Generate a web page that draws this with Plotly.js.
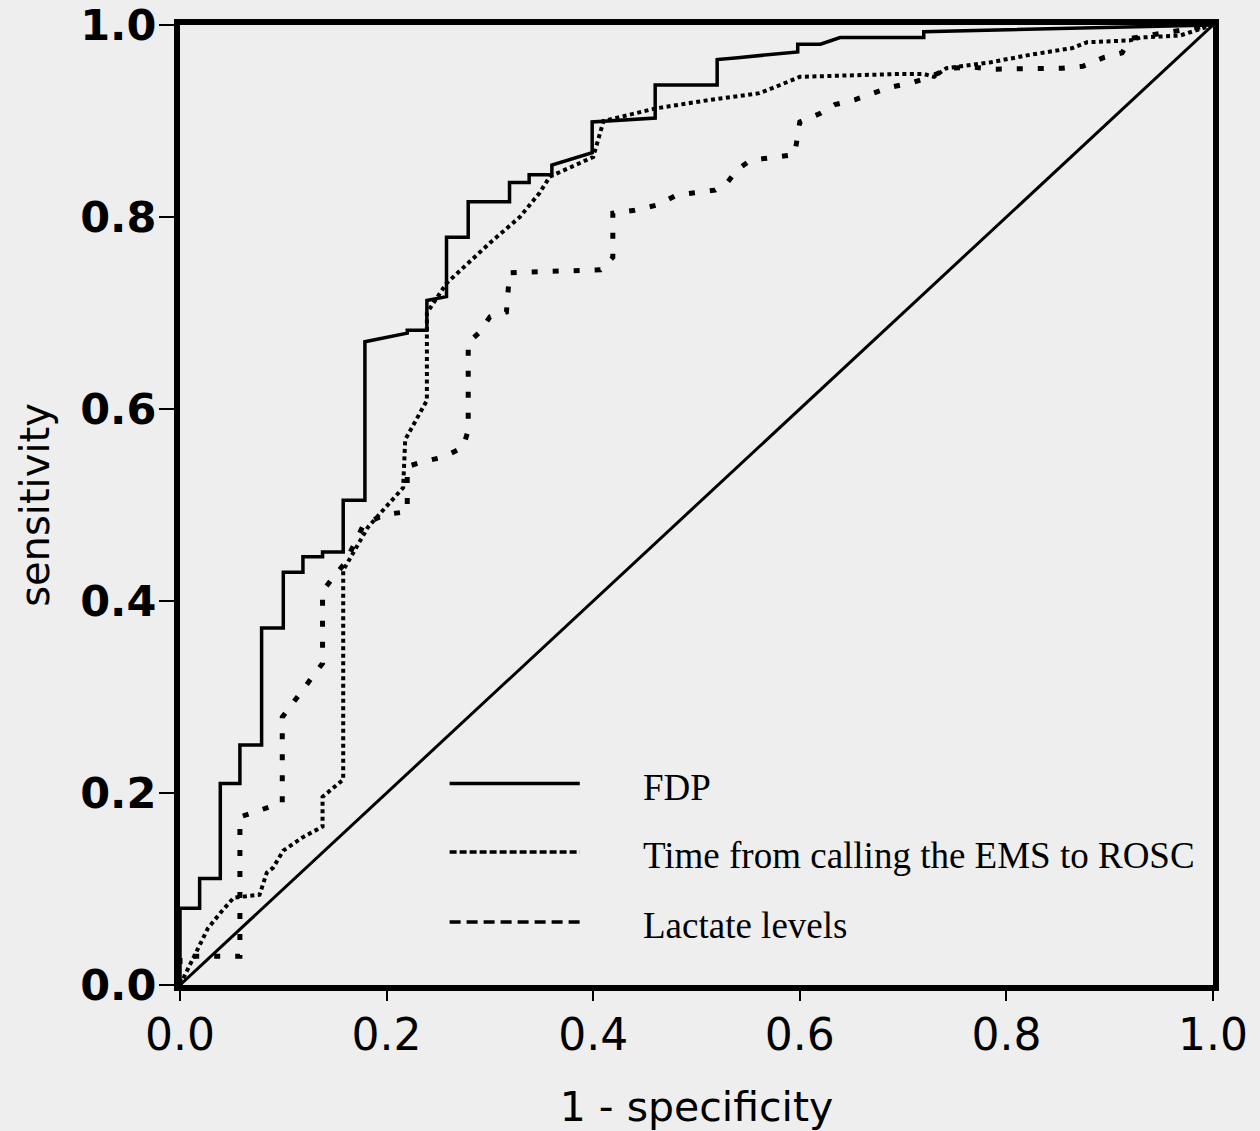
<!DOCTYPE html>
<html>
<head>
<meta charset="utf-8">
<script src="https://cdn.plot.ly/plotly-3.0.1.min.js"></script>
<style>
  html, body { margin: 0; padding: 0; background: #eeeeee; }
  #chart { width: 1260px; height: 1131px; }
</style>
</head>
<body>
<div id="chart"></div>
<script>
// ---- data ----
const seriesNames = ["FDP", "Time from calling the EMS to ROSC", "Lactate levels"];

const fdpX = [0, 0, 0.019, 0.019, 0.039, 0.039, 0.058, 0.058, 0.079, 0.079, 0.100, 0.100, 0.119, 0.119, 0.138, 0.138, 0.158, 0.158, 0.179, 0.179, 0.220, 0.220, 0.239, 0.239, 0.258, 0.258, 0.279, 0.279, 0.319, 0.319, 0.338, 0.338, 0.360, 0.360, 0.399, 0.399, 0.460, 0.460, 0.520, 0.520, 0.540, 0.598, 0.598, 0.620, 0.639, 0.720, 0.720, 1];
const fdpY = [0, 0.080, 0.080, 0.111, 0.111, 0.210, 0.210, 0.250, 0.250, 0.372, 0.372, 0.430, 0.430, 0.446, 0.446, 0.451, 0.451, 0.505, 0.505, 0.670, 0.679, 0.682, 0.682, 0.713, 0.717, 0.779, 0.779, 0.816, 0.816, 0.836, 0.836, 0.844, 0.844, 0.854, 0.867, 0.899, 0.903, 0.9375, 0.9375, 0.964, 0.966, 0.972, 0.980, 0.980, 0.987, 0.987, 0.993, 1];

const emsX = [0, 0.019, 0.027, 0.039, 0.052, 0.077, 0.084, 0.090, 0.100, 0.119, 0.138, 0.138, 0.158, 0.158, 0.182, 0.216, 0.218, 0.239, 0.239, 0.258, 0.300, 0.329, 0.348, 0.358, 0.384, 0.400, 0.410, 0.460, 0.513, 0.561, 0.581, 0.600, 0.697, 0.720, 0.730, 0.742, 0.784, 0.823, 0.864, 0.878, 0.920, 0.930, 0.968, 1];
const emsY = [0, 0.042, 0.059, 0.075, 0.091, 0.094, 0.117, 0.122, 0.140, 0.154, 0.165, 0.196, 0.214, 0.432, 0.477, 0.518, 0.568, 0.609, 0.700, 0.731, 0.773, 0.800, 0.825, 0.842, 0.854, 0.8625, 0.900, 0.913, 0.922, 0.929, 0.9375, 0.946, 0.949, 0.949, 0.946, 0.955, 0.961, 0.969, 0.976, 0.982, 0.984, 0.987, 0.989, 1];

const lacX = [0, 0, 0.058, 0.058, 0.099, 0.099, 0.138, 0.138, 0.145, 0.160, 0.178, 0.198, 0.220, 0.220, 0.235, 0.255, 0.274, 0.279, 0.279, 0.290, 0.300, 0.316, 0.319, 0.407, 0.419, 0.419, 0.440, 0.462, 0.481, 0.518, 0.530, 0.539, 0.552, 0.595, 0.600, 0.620, 0.634, 0.653, 0.687, 0.709, 0.726, 0.745, 0.768, 0.789, 0.854, 0.874, 0.894, 0.912, 0.920, 1];
const lacY = [0, 0.030, 0.030, 0.175, 0.190, 0.279, 0.335, 0.410, 0.420, 0.440, 0.480, 0.490, 0.493, 0.540, 0.545, 0.550, 0.560, 0.578, 0.669, 0.680, 0.696, 0.701, 0.742, 0.745, 0.758, 0.804, 0.807, 0.8125, 0.823, 0.828, 0.836, 0.849, 0.859, 0.865, 0.899, 0.908, 0.917, 0.922, 0.935, 0.940, 0.946, 0.955, 0.956, 0.954, 0.955, 0.957, 0.966, 0.971, 0.986, 1];

const refX = [0, 1];
const refY = [0, 1];

const tickVals = [0, 0.2, 0.4, 0.6, 0.8, 1.0];
const tickText = ["0.0", "0.2", "0.4", "0.6", "0.8", "1.0"];

// ---- traces ----
const traces = [
  { x: refX, y: refY, mode: "lines", line: { color: "#000", width: 3 }, showlegend: false, hoverinfo: "skip" },
  { x: lacX, y: lacY, name: seriesNames[2], mode: "lines", line: { color: "#000", width: 5, dash: "6px,15px" }, showlegend: false },
  { x: emsX, y: emsY, name: seriesNames[1], mode: "lines", line: { color: "#000", width: 4, dash: "4px,3.5px" }, showlegend: false },
  { x: fdpX, y: fdpY, name: seriesNames[0], mode: "lines", line: { color: "#000", width: 3.5 }, showlegend: false }
];

// ---- legend drawn inside the plot (long line samples) ----
const legX0 = 0.261, legX1 = 0.387, legTextX = 0.446;
const legRows = [
  { y: 0.210, dash: "solid" },
  { y: 0.1385, dash: "7px,3px" },
  { y: 0.0656, dash: "11px,6px" }
];
const shapes = legRows.map(r => ({
  type: "line", xref: "paper", yref: "paper",
  x0: legX0, x1: legX1, y0: r.y, y1: r.y,
  line: { color: "#000", width: 3.5, dash: r.dash }
}));
const annotations = legRows.map((r, i) => ({
  xref: "paper", yref: "paper", x: legTextX, y: r.y - 0.004,
  xanchor: "left", yanchor: "middle", showarrow: false,
  text: seriesNames[i],
  font: { family: "Liberation Serif", size: 37, color: "#000" }
}));

const layout = {
  width: 1260, height: 1131,
  margin: { l: 180, r: 47, t: 25, b: 146 },
  paper_bgcolor: "#eeeeee",
  plot_bgcolor: "#eeeeee",
  showlegend: false,
  xaxis: {
    range: [0, 1], tickvals: tickVals, ticktext: tickText,
    showgrid: false, zeroline: false,
    showline: true, linecolor: "#000", linewidth: 6, mirror: true,
    ticks: "outside", ticklen: 10, tickwidth: 2, tickcolor: "#000",
    ticklabelstandoff: -4,
    tickfont: { family: "DejaVu Sans", size: 44, color: "#000" },
    title: { text: "1 - specificity", font: { family: "DejaVu Sans", size: 41, color: "#000" }, standoff: 36 }
  },
  yaxis: {
    range: [0, 1], tickvals: tickVals, ticktext: tickText,
    showgrid: false, zeroline: false,
    showline: true, linecolor: "#000", linewidth: 6, mirror: true,
    ticks: "outside", ticklen: 15, tickwidth: 2, tickcolor: "#000",
    ticklabelstandoff: -6,
    tickfont: { family: "DejaVu Sans", size: 43, weight: 700, color: "#000" },
    title: { text: "sensitivity", font: { family: "DejaVu Sans", size: 40, color: "#000" }, standoff: 20 }
  },
  shapes: shapes,
  annotations: annotations
};

Plotly.newPlot("chart", traces, layout, { displayModeBar: false, staticPlot: true });
</script>
</body>
</html>
